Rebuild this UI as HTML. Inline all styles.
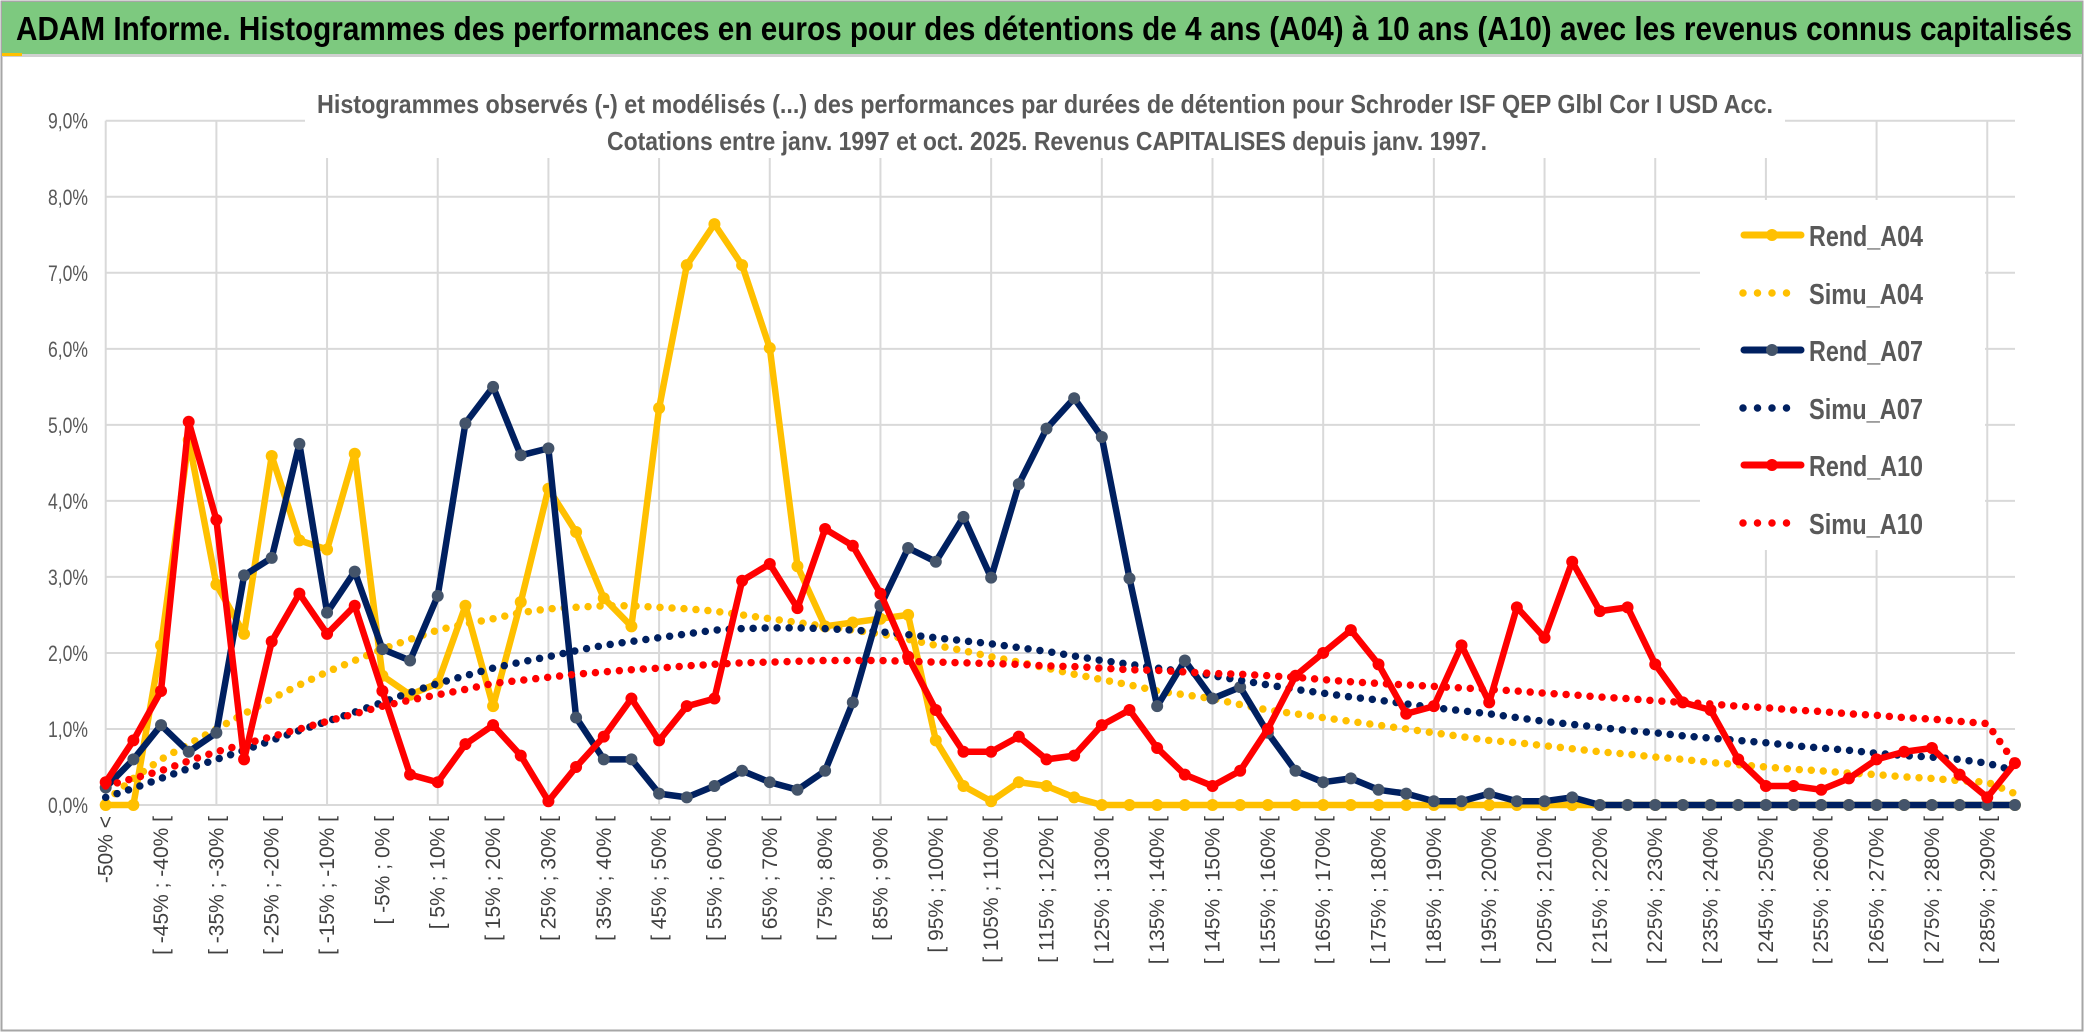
<!DOCTYPE html>
<html><head><meta charset="utf-8"><style>
html,body{margin:0;padding:0;background:#fff;}
svg{display:block;}
text{font-family:"Liberation Sans",sans-serif;}
</style></head><body>
<svg id="chart" width="2086" height="1033" viewBox="0 0 2086 1033" xmlns="http://www.w3.org/2000/svg">
<rect x="0" y="0" width="2086" height="1033" fill="#fff"/>
<rect x="1.5" y="1.5" width="2081" height="1029" fill="none" stroke="#a6a6a6" stroke-width="2"/>
<rect x="2" y="2" width="2080" height="52" fill="#7dc97f"/>
<rect x="2" y="54" width="2080" height="3" fill="#d0d0d0"/>
<rect x="2" y="53" width="20" height="3" fill="#ffc000"/>
<text x="16" y="40" font-size="33" font-weight="bold" fill="#000" textLength="2056" lengthAdjust="spacingAndGlyphs">ADAM Informe. Histogrammes des performances en euros pour des détentions de 4 ans (A04) à 10 ans (A10) avec les revenus connus capitalisés</text>
<g id="grid"></g>
<rect x="305" y="80" width="1480" height="78" fill="#fff"/>
<text x="1045" y="113" font-size="26" font-weight="bold" fill="#595959" text-anchor="middle" textLength="1456" lengthAdjust="spacingAndGlyphs">Histogrammes observés (-) et modélisés (...) des performances par durées de détention pour Schroder ISF QEP Glbl Cor I USD Acc.</text>
<text x="1047" y="150" font-size="26" font-weight="bold" fill="#595959" text-anchor="middle" textLength="880" lengthAdjust="spacingAndGlyphs">Cotations entre janv. 1997 et oct. 2025. Revenus CAPITALISES depuis janv. 1997.</text>
<g id="yaxis"></g>
<g id="xaxis"></g>
<g id="series"></g>
<g id="legend"></g>
</svg>
<script>
const rendA04 = [0,0,2.1,4.8,2.9,2.25,4.59,3.48,3.36,4.62,
1.7,1.45,1.6,2.62,1.3,2.67,4.16,3.59,2.72,2.35,
5.22,7.1,7.64,7.1,6.01,3.14,2.35,2.4,2.45,2.5,
0.85,0.25,0.05,0.3,0.25,0.1,0,0,0,0,
0,0,0,0,0,0,0,0,0,0,
0,0,0,0,0,0,0,0,0,0,
0,0,0,0,0,0,0,0,0,0];
const simuA04 = [0.05,0.35,0.6,0.8,1.0,1.2,1.4,1.58,1.75,1.9,
2.05,2.18,2.3,2.38,2.45,2.53,2.58,2.6,2.62,2.62,
2.6,2.58,2.55,2.5,2.45,2.4,2.35,2.3,2.25,2.18,
2.1,2.03,1.95,1.88,1.8,1.72,1.65,1.58,1.5,1.45,
1.4,1.32,1.25,1.2,1.15,1.1,1.05,1.0,0.95,0.9,
0.85,0.82,0.78,0.74,0.7,0.67,0.63,0.6,0.56,0.53,
0.5,0.47,0.45,0.42,0.4,0.37,0.35,0.32,0.3,0.15];
const rendA07 = [0.23,0.6,1.05,0.7,0.95,3.02,3.25,4.75,2.53,3.07,
2.05,1.9,2.75,5.02,5.5,4.6,4.69,1.15,0.6,0.6,
0.15,0.1,0.25,0.45,0.3,0.2,0.45,1.35,2.62,3.38,
3.2,3.79,2.99,4.22,4.95,5.35,4.84,2.98,1.3,1.9,
1.4,1.55,0.95,0.45,0.3,0.35,0.2,0.15,0.05,0.05,
0.15,0.05,0.05,0.1,0,0,0,0,0,0,
0,0,0,0,0,0,0,0,0,0];
const simuA07 = [0.1,0.22,0.35,0.48,0.6,0.72,0.85,0.98,1.1,1.22,
1.35,1.48,1.6,1.7,1.8,1.88,1.95,2.03,2.1,2.15,
2.2,2.25,2.3,2.32,2.33,2.33,2.32,2.3,2.28,2.24,
2.2,2.16,2.12,2.07,2.02,1.96,1.9,1.85,1.8,1.75,
1.7,1.64,1.58,1.52,1.47,1.42,1.38,1.33,1.28,1.24,
1.2,1.15,1.1,1.06,1.02,0.98,0.95,0.91,0.88,0.85,
0.82,0.78,0.75,0.72,0.68,0.65,0.63,0.6,0.55,0.45];
const rendA10 = [0.3,0.85,1.5,5.04,3.75,0.6,2.15,2.78,2.25,2.62,
1.5,0.4,0.3,0.8,1.05,0.65,0.05,0.5,0.9,1.4,
0.85,1.3,1.4,2.95,3.17,2.59,3.63,3.41,2.78,1.95,
1.25,0.7,0.7,0.9,0.6,0.65,1.05,1.25,0.75,0.4,
0.25,0.45,1.0,1.7,2.0,2.3,1.85,1.2,1.3,2.1,
1.35,2.6,2.2,3.2,2.55,2.6,1.85,1.35,1.25,0.6,
0.25,0.25,0.2,0.35,0.6,0.7,0.75,0.4,0.1,0.55];
const simuA10 = [0.25,0.35,0.45,0.58,0.7,0.8,0.9,1.0,1.1,1.2,
1.3,1.38,1.45,1.52,1.6,1.64,1.68,1.72,1.75,1.78,
1.8,1.83,1.85,1.87,1.88,1.89,1.9,1.9,1.9,1.89,
1.88,1.87,1.86,1.85,1.83,1.82,1.8,1.78,1.77,1.75,
1.73,1.72,1.7,1.68,1.65,1.62,1.6,1.58,1.56,1.54,
1.52,1.5,1.47,1.45,1.42,1.4,1.37,1.35,1.33,1.3,
1.28,1.25,1.23,1.2,1.18,1.15,1.13,1.1,1.07,0.55];
const yTicks = [0,1,2,3,4,5,6,7,8,9];
const yTickLabels = ["0,0%","1,0%","2,0%","3,0%","4,0%","5,0%","6,0%","7,0%","8,0%","9,0%"];
const categories = [];
categories.push("-50% <");
for (let k = 1; k < 70; k++) categories.push("[ " + (-55 + 5*k) + "% ; " + (-50 + 5*k) + "% [");

const NS = "http://www.w3.org/2000/svg";
const X0 = 105.7, DX = 27.67, Y0 = 805, YPER = 76.03, XR = 2015;
function xs(i){ return X0 + i*DX; }
function ys(v){ return Y0 - v*YPER; }
function mk(tag, attrs, parent){
  const e = document.createElementNS(NS, tag);
  for (const k in attrs) e.setAttribute(k, attrs[k]);
  parent.appendChild(e); return e;
}
const grid = document.getElementById('grid');
yTicks.forEach(function(t){
  const l = mk('line', {x1:X0, x2:XR, y1:ys(t), y2:ys(t), stroke:'#d9d9d9', 'stroke-width':2}, grid);
  
  
});
for (let i = 0; i < categories.length; i += 4){
  const l = mk('line', {x1:xs(i), x2:xs(i), y1:ys(9), y2:Y0, stroke:'#d9d9d9', 'stroke-width':2}, grid);
  
  
}
const yaxis = document.getElementById('yaxis');
yTicks.forEach(function(t, j){
  const tx = mk('text', {x:88, y:ys(t)+8, 'font-size':22, fill:'#595959', 'text-anchor':'end', textLength:40, lengthAdjust:'spacingAndGlyphs'}, yaxis);
  tx.textContent = yTickLabels[j];
  
  
});
const xaxis = document.getElementById('xaxis');
for (let i = 0; i < categories.length; i += 2){
  const x = xs(i) + 7, y = 816;
  const tx = mk('text', {x:x, y:y, 'font-size':21, fill:'#404040', 'text-anchor':'end', transform:'rotate(-90 '+x+' '+y+')'}, xaxis);
  tx.textContent = categories[i];
  
  
}
const seriesG = document.getElementById('series');
function pts(arr){ return arr.map(function(v,i){ return xs(i).toFixed(1)+','+ys(v).toFixed(1); }).join(' '); }
function solid(arr, color, mcolor, name){
  const g = mk('g', {}, seriesG);
  
  
  const pl = mk('polyline', {points:pts(arr), fill:'none', stroke:color, 'stroke-width':6.5, 'stroke-linejoin':'round', 'stroke-linecap':'round'}, g);
  
  
  arr.forEach(function(v,i){
    const c = mk('circle', {cx:xs(i), cy:ys(v), r:6, fill:mcolor}, g);
    
    
  });
}
function dotted(arr, color, name){
  const pl = mk('polyline', {points:pts(arr), fill:'none', stroke:color, 'stroke-width':7.5, 'stroke-linecap':'round', 'stroke-dasharray':'0 12'}, seriesG);
  
  
}
solid(rendA04, '#ffc000', '#ffc000', 'rend-a04');
dotted(simuA04, '#ffc000', 'simu-a04');
solid(rendA07, '#002060', '#44546a', 'rend-a07');
dotted(simuA07, '#002060', 'simu-a07');
solid(rendA10, '#ff0000', '#ff0000', 'rend-a10');
dotted(simuA10, '#ff0000', 'simu-a10');

const legend = document.getElementById('legend');
const lbg = mk('rect', {x:1700, y:200, width:285, height:350, fill:'#fff'}, legend);


const legNames = ["Rend_A04","Simu_A04","Rend_A07","Simu_A07","Rend_A10","Simu_A10"];
const legColors = ["#ffc000","#ffc000","#002060","#002060","#ff0000","#ff0000"];
const legMarker = ["#ffc000",null,"#44546a",null,"#ff0000",null];
const legY = [235,293,350,408,465,523];
legNames.forEach(function(n, j){
  const g = mk('g', {}, legend);
  
  
  const y = legY[j];
  if (legMarker[j]){
    mk('line', {x1:1744, x2:1801, y1:y, y2:y, stroke:legColors[j], 'stroke-width':7, 'stroke-linecap':'round'}, g);
    mk('circle', {cx:1772, cy:y, r:6, fill:legMarker[j]}, g);
  } else {
    mk('line', {x1:1743, x2:(j==5?1800:1790), y1:y, y2:y, stroke:legColors[j], 'stroke-width':7.5, 'stroke-linecap':'round', 'stroke-dasharray':'0 14.5'}, g);
  }
  const t = mk('text', {x:1809, y:y+11, 'font-size':29, 'font-weight':'bold', fill:'#595959', textLength:114, lengthAdjust:'spacingAndGlyphs'}, g);
  t.textContent = n;
});
</script>
</body></html>
